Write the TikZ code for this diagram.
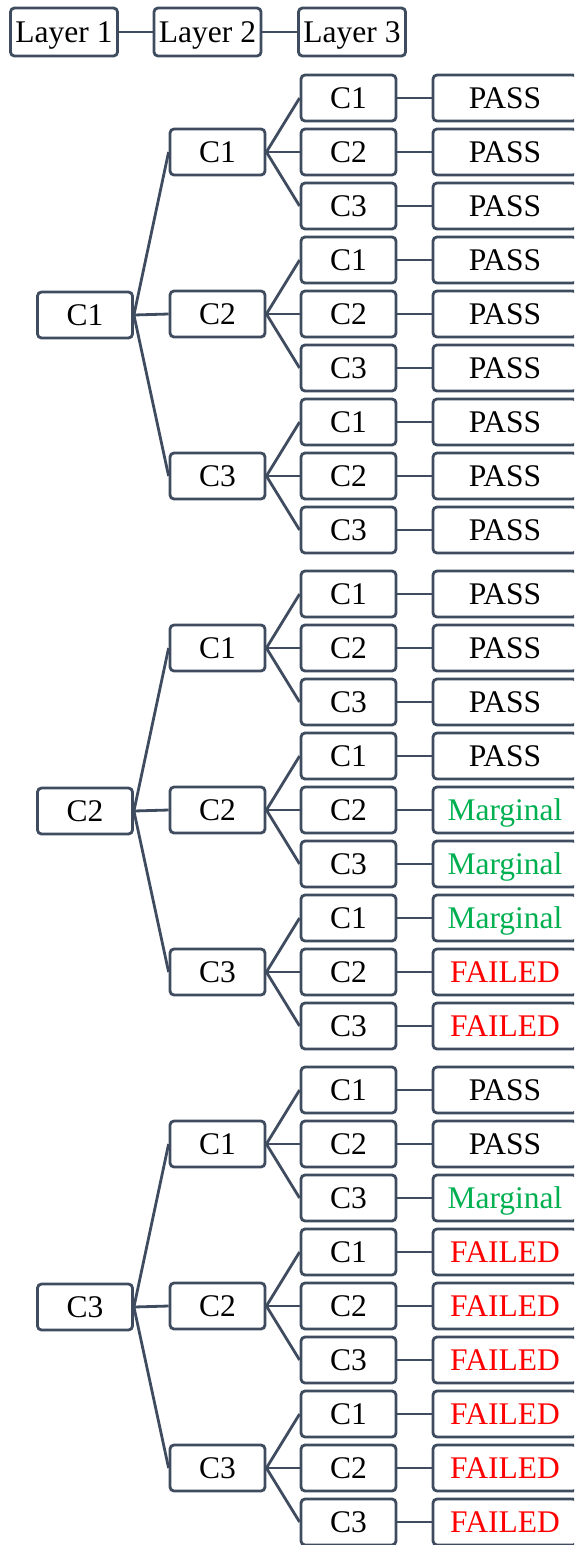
\documentclass[tikz,border=0pt]{standalone}
\usepackage{fontspec}
\setmainfont{Liberation Serif}
\definecolor{wiregray}{HTML}{3F4B5E}
\definecolor{margreen}{HTML}{00B050}
\definecolor{failred}{HTML}{FF0000}
\tikzset{
  wire/.style={draw=wiregray, line width=2.8pt},
  anybox/.style={draw=wiregray, line width=2.8pt, rounded corners=4pt, inner ysep=0pt,
    text height=21pt, text depth=0pt, font=\fontsize{31.5}{36}\selectfont},
  headbox/.style={anybox, minimum height=48pt, inner xsep=5pt},
  cbox/.style={anybox, minimum height=46pt, minimum width=95pt, inner xsep=0pt},
  resbox/.style={anybox, minimum height=46pt, minimum width=144pt, inner xsep=0pt},
  passres/.style={text=black},
  margres/.style={text=margreen},
  failres/.style={text=failred}
}
\begin{document}
\begin{tikzpicture}[x=1pt,y=-1pt]
\useasboundingbox (0,0) rectangle (574,1545);
\clip (0,0) rectangle (574,1545);
% header
\node[headbox] (lay1) at (64,32) {Layer 1};
\node[headbox] (lay2) at (207.5,32) {Layer 2};
\node[headbox] (lay3) at (352,32) {Layer 3};
\draw[wire] (lay1) -- (lay2);
\draw[wire] (lay2) -- (lay3);
% tree of C nodes
\foreach \g in {1,2,3}{
  \node[cbox] (n\g) at (85,{315+496*(\g-1)}) {C\g};
  \foreach \k in {1,2,3}{
    \node[cbox] (n\g\k) at (217.5,{152+162*(\k-1)+496*(\g-1)}) {C\k};
    \draw[wire] (n\g.east) -- (n\g\k.west);
    \foreach \j in {1,2,3}{
      \node[cbox] (n\g\k\j) at (348.5,{98+54*(\j-1)+162*(\k-1)+496*(\g-1)}) {C\j};
      \draw[wire] (n\g\k.east) -- (n\g\k\j.west);
    }
  }
}
% results
\foreach \g/\k/\j/\st/\txt in {
  1/1/1/passres/PASS, 1/1/2/passres/PASS, 1/1/3/passres/PASS,
  1/2/1/passres/PASS, 1/2/2/passres/PASS, 1/2/3/passres/PASS,
  1/3/1/passres/PASS, 1/3/2/passres/PASS, 1/3/3/passres/PASS,
  2/1/1/passres/PASS, 2/1/2/passres/PASS, 2/1/3/passres/PASS,
  2/2/1/passres/PASS, 2/2/2/margres/Marginal, 2/2/3/margres/Marginal,
  2/3/1/margres/Marginal, 2/3/2/failres/FAILED, 2/3/3/failres/FAILED,
  3/1/1/passres/PASS, 3/1/2/passres/PASS, 3/1/3/margres/Marginal,
  3/2/1/failres/FAILED, 3/2/2/failres/FAILED, 3/2/3/failres/FAILED,
  3/3/1/failres/FAILED, 3/3/2/failres/FAILED, 3/3/3/failres/FAILED}{
  \node[resbox,\st] (r\g\k\j) at (505,{98+54*(\j-1)+162*(\k-1)+496*(\g-1)}) {\txt};
  \draw[wire] (n\g\k\j.east) -- (r\g\k\j.west);
}
\end{tikzpicture}
\end{document}
